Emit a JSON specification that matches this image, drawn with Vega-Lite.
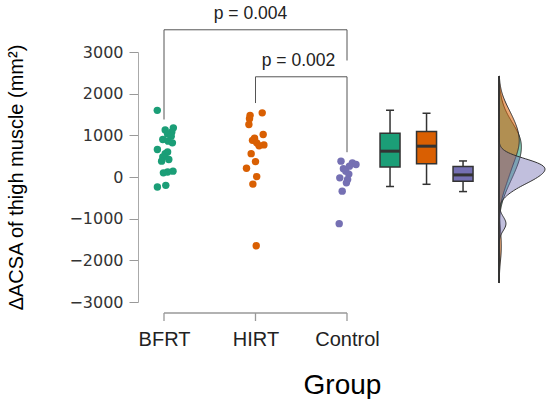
{
  "$schema": "https://vega.github.io/schema/vega-lite/v6.json",
  "padding": {"left": 6, "top": 4, "right": 0, "bottom": 0},
  "background": "white",
  "config": {"view": {"stroke": null}, "font": "Liberation Sans"},
  "bounds": "flush",
  "spacing": 10,
  "datasets": {
    "pts": [
      {"grp": "BFRT", "val": 1600, "jit": -0.56},
      {"grp": "BFRT", "val": 1180, "jit": 0.78},
      {"grp": "BFRT", "val": 1130, "jit": 0.1},
      {"grp": "BFRT", "val": 1080, "jit": 0.65},
      {"grp": "BFRT", "val": 1030, "jit": 0.3},
      {"grp": "BFRT", "val": 980, "jit": 0.6},
      {"grp": "BFRT", "val": 900, "jit": -0.1},
      {"grp": "BFRT", "val": 860, "jit": 0.35},
      {"grp": "BFRT", "val": 820, "jit": 0.7},
      {"grp": "BFRT", "val": 660, "jit": -0.55},
      {"grp": "BFRT", "val": 600, "jit": 0.3},
      {"grp": "BFRT", "val": 560, "jit": 0.1},
      {"grp": "BFRT", "val": 480, "jit": -0.1},
      {"grp": "BFRT", "val": 420, "jit": 0.4},
      {"grp": "BFRT", "val": 380, "jit": -0.2},
      {"grp": "BFRT", "val": 140, "jit": 0.75},
      {"grp": "BFRT", "val": 120, "jit": 0.3},
      {"grp": "BFRT", "val": 100, "jit": -0.05},
      {"grp": "BFRT", "val": -200, "jit": 0.15},
      {"grp": "BFRT", "val": -240, "jit": -0.55},
      {"grp": "HIRT", "val": 1540, "jit": 0.56},
      {"grp": "HIRT", "val": 1480, "jit": -0.45},
      {"grp": "HIRT", "val": 1400, "jit": -0.5},
      {"grp": "HIRT", "val": 1260, "jit": -0.55},
      {"grp": "HIRT", "val": 1020, "jit": 0.64},
      {"grp": "HIRT", "val": 930, "jit": -0.08},
      {"grp": "HIRT", "val": 880, "jit": -0.25},
      {"grp": "HIRT", "val": 820, "jit": 0.1},
      {"grp": "HIRT", "val": 770, "jit": 0.7},
      {"grp": "HIRT", "val": 750, "jit": 0.3},
      {"grp": "HIRT", "val": 560, "jit": -0.36},
      {"grp": "HIRT", "val": 370, "jit": 0.0},
      {"grp": "HIRT", "val": 210, "jit": -0.75},
      {"grp": "HIRT", "val": 10, "jit": 0.1},
      {"grp": "HIRT", "val": -170, "jit": -0.22},
      {"grp": "HIRT", "val": -1650, "jit": 0.06},
      {"grp": "Control", "val": 380, "jit": -0.5},
      {"grp": "Control", "val": 340, "jit": 0.45},
      {"grp": "Control", "val": 300, "jit": 0.75},
      {"grp": "Control", "val": 260, "jit": 0.2},
      {"grp": "Control", "val": 200, "jit": -0.3},
      {"grp": "Control", "val": 140, "jit": -0.1},
      {"grp": "Control", "val": 70, "jit": 0.15},
      {"grp": "Control", "val": -20, "jit": -0.6},
      {"grp": "Control", "val": -60, "jit": 0.05},
      {"grp": "Control", "val": -140, "jit": -0.05},
      {"grp": "Control", "val": -340, "jit": -0.4},
      {"grp": "Control", "val": -1120, "jit": -0.65}
    ],
    "box": [
      {"grp": "BFRT", "lo": -230, "q1": 240, "med": 620, "q3": 1050, "hi": 1600},
      {"grp": "HIRT", "lo": -175, "q1": 320, "med": 740, "q3": 1090, "hi": 1530},
      {"grp": "Control", "lo": -350, "q1": -100, "med": 50, "q3": 250, "hi": 385}
    ],
    "brk": [
      {"xa": "BFRT", "xb": "Control", "ya": 3533, "yb": 3533},
      {"xa": "BFRT", "xb": "BFRT", "ya": 3533, "yb": 1380},
      {"xa": "Control", "xb": "Control", "ya": 3533, "yb": 2796},
      {"xa": "HIRT", "xb": "Control", "ya": 2405, "yb": 2405},
      {"xa": "HIRT", "xb": "HIRT", "ya": 2405, "yb": 1775},
      {"xa": "Control", "xb": "Control", "ya": 2405, "yb": 595}
    ],
    "ax": [
      {"xa": "BFRT", "xb": "Control", "ya": -3264, "yb": -3264},
      {"xa": "BFRT", "xb": "BFRT", "ya": -3264, "yb": -3456},
      {"xa": "HIRT", "xb": "HIRT", "ya": -3264, "yb": -3456},
      {"xa": "Control", "xb": "Control", "ya": -3264, "yb": -3456}
    ]
  },
  "hconcat": [
    {
      "width": 183,
      "height": 250,
      "layer": [
        {
          "data": {"name": "pts"},
          "mark": {"type": "circle", "size": 55, "opacity": 1},
          "encoding": {
            "x": {
              "field": "grp", "type": "nominal", "sort": ["BFRT", "HIRT", "Control"],
              "scale": {"type": "point", "padding": 0, "domain": ["BFRT", "HIRT", "Control"]},
              "axis": {
                "offset": 11, "domain": false, "ticks": true, "tickOpacity": 0, "tickSize": 8,
                "labelFontSize": 20, "labelColor": "#222222", "labelPadding": 8, "labelAngle": 0,
                "labelAlign": "center", "labelFlush": false,
                "title": "Group", "titleFontSize": 28, "titleFontWeight": "normal", "titleColor": "#000000",
                "titleX": 178, "titleY": 80, "titleBaseline": "alphabetic", "titleAlign": "center"
              }
            },
            "xOffset": {"field": "jit", "type": "quantitative", "scale": {"domain": [-1, 1], "range": [-12, 12]}},
            "y": {
              "field": "val", "type": "quantitative",
              "scale": {"domain": [-3000, 3000], "nice": false, "zero": false},
              "axis": {
                "offset": 26, "values": [-3000, -2000, -1000, 0, 1000, 2000, 3000], "grid": false, "format": "d",
                "domainColor": "#aaaaaa", "tickColor": "#999999", "tickSize": 9,
                "labelFont": "DejaVu Sans", "labelFontSize": 16, "labelColor": "#333333", "labelPadding": 6,
                "title": "ΔACSA of thigh muscle (mm²)", "titleFontSize": 20, "titleFontWeight": "normal",
                "titleColor": "#000000", "titlePadding": 42
              }
            },
            "color": {
              "field": "grp", "type": "nominal",
              "scale": {"domain": ["BFRT", "HIRT", "Control"], "range": ["#1b9e77", "#d95f02", "#7570b3"]},
              "legend": null
            }
          }
        },
        {
          "data": {"name": "brk"},
          "mark": {"type": "rule", "color": "#555555", "strokeWidth": 1},
          "encoding": {
            "x": {"field": "xa", "type": "nominal"},
            "x2": {"field": "xb"},
            "y": {"field": "ya", "type": "quantitative"},
            "y2": {"field": "yb"}
          }
        },
        {
          "data": {"values": [{"label": "p = 0.004", "x": "HIRT", "y": 3917}]},
          "mark": {"type": "text", "fontSize": 17.5, "color": "#222222", "dx": -5, "baseline": "middle"},
          "encoding": {
            "x": {"field": "x", "type": "nominal"},
            "y": {"field": "y", "type": "quantitative"},
            "text": {"field": "label"}
          }
        },
        {
          "data": {"values": [{"label": "p = 0.002", "x": "HIRT", "y": 2784}]},
          "mark": {"type": "text", "fontSize": 17.5, "color": "#222222", "dx": 43, "baseline": "middle"},
          "encoding": {
            "x": {"field": "x", "type": "nominal"},
            "y": {"field": "y", "type": "quantitative"},
            "text": {"field": "label"}
          }
        },
        {
          "data": {"name": "ax"},
          "mark": {"type": "rule", "color": "#999999", "strokeWidth": 1.3},
          "encoding": {
            "x": {"field": "xa", "type": "nominal"},
            "x2": {"field": "xb"},
            "y": {"field": "ya", "type": "quantitative"},
            "y2": {"field": "yb"}
          }
        }
      ]
    },
    {
      "width": 132,
      "height": 250,
      "data": {"name": "box"},
      "encoding": {
        "x": {
          "field": "grp", "type": "nominal", "sort": ["BFRT", "HIRT", "Control"],
          "scale": {"type": "point", "domain": ["BFRT", "HIRT", "Control"], "padding": 0.808, "align": 0.56},
          "axis": null
        }
      },
      "layer": [
        {
          "mark": {"type": "rule", "color": "#333333", "strokeWidth": 1.5},
          "encoding": {
            "y": {"field": "lo", "type": "quantitative", "scale": {"domain": [-3000, 3000], "nice": false, "zero": false}, "axis": null},
            "y2": {"field": "hi"}
          }
        },
        {
          "mark": {"type": "tick", "color": "#333333", "thickness": 1.5, "size": 8, "opacity": 1},
          "encoding": {"y": {"field": "lo", "type": "quantitative", "scale": {"domain": [-3000, 3000], "nice": false, "zero": false}, "axis": null}}
        },
        {
          "mark": {"type": "tick", "color": "#333333", "thickness": 1.5, "size": 8, "opacity": 1},
          "encoding": {"y": {"field": "hi", "type": "quantitative", "scale": {"domain": [-3000, 3000], "nice": false, "zero": false}, "axis": null}}
        },
        {
          "mark": {"type": "bar", "size": 20, "stroke": "#333333", "strokeWidth": 1.5, "opacity": 1},
          "encoding": {
            "y": {"field": "q1", "type": "quantitative", "scale": {"domain": [-3000, 3000], "nice": false, "zero": false}, "axis": null},
            "y2": {"field": "q3"},
            "color": {
              "field": "grp", "type": "nominal",
              "scale": {"domain": ["BFRT", "HIRT", "Control"], "range": ["#1b9e77", "#d95f02", "#7570b3"]},
              "legend": null
            }
          }
        },
        {
          "mark": {"type": "tick", "color": "#333333", "thickness": 3, "size": 20, "opacity": 1},
          "encoding": {"y": {"field": "med", "type": "quantitative", "scale": {"domain": [-3000, 3000], "nice": false, "zero": false}, "axis": null}}
        }
      ]
    },
    {
      "width": 46,
      "height": 250,
      "layer": [
        {
          "data": {"name": "pts"},
          "transform": [
            {"filter": {"field": "grp", "oneOf": ["BFRT", "HIRT"]}},
            {"density": "val", "groupby": ["grp"], "bandwidth": 380, "extent": [-2540, 2420], "steps": 200}
          ],
          "mark": {"type": "area", "orient": "horizontal", "stroke": "#333333", "strokeWidth": 1, "fillOpacity": 0.55},
          "encoding": {
            "y": {"field": "value", "type": "quantitative", "scale": {"domain": [-3000, 3000], "nice": false, "zero": false}, "axis": null},
            "x": {"field": "density", "type": "quantitative", "stack": null, "scale": {"nice": false, "zero": true}, "axis": null},
            "color": {
              "field": "grp", "type": "nominal",
              "scale": {"domain": ["BFRT", "HIRT", "Control"], "range": ["#1b9e77", "#d95f02", "#7570b3"]},
              "legend": null
            }
          }
        },
        {
          "data": {"name": "pts"},
          "transform": [
            {"filter": {"field": "grp", "equal": "Control"}},
            {"density": "val", "groupby": ["grp"], "extent": [-2540, 2420], "steps": 200}
          ],
          "mark": {"type": "area", "orient": "horizontal", "stroke": "#333333", "strokeWidth": 1, "fillOpacity": 0.45},
          "encoding": {
            "y": {"field": "value", "type": "quantitative", "scale": {"domain": [-3000, 3000], "nice": false, "zero": false}, "axis": null},
            "x": {"field": "density", "type": "quantitative", "stack": null, "scale": {"nice": false, "zero": true}, "axis": null},
            "color": {
              "field": "grp", "type": "nominal",
              "scale": {"domain": ["BFRT", "HIRT", "Control"], "range": ["#1b9e77", "#d95f02", "#7570b3"]},
              "legend": null
            }
          }
        },
        {
          "data": {"values": [{"a": 2420, "b": -2540}]},
          "mark": {"type": "rule", "color": "#333333", "strokeWidth": 1.5},
          "encoding": {
            "x": {"datum": 0, "type": "quantitative"},
            "y": {"field": "a", "type": "quantitative"},
            "y2": {"field": "b"}
          }
        }
      ]
    }
  ]
}
